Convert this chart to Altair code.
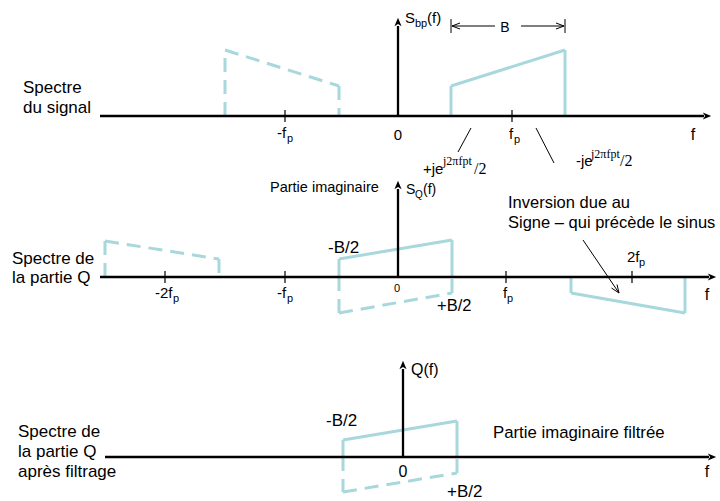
import altair as alt
import pandas as pd

W, H = 720, 501
CYAN = "#a8d8dc"
SANS = "Liberation Sans"
SERIF = "Liberation Serif"

# ---- geometry of the diagram (page coordinates: x to the right, y downwards) ----
axis_lines = [  # x1, y1, x2, y2
    (100, 116, 704, 116), (398, 116, 398, 26),
    (100, 277, 709, 277), (398, 277, 398, 189),
    (105, 457, 709, 457), (403, 457, 403, 369),
]
axis_heads = [  # x, y, angle
    (707, 116, 0), (398, 22, 270),
    (712, 277, 0), (398, 185, 270),
    (712, 457, 0), (403, 365, 270),
]
ticks = [
    (285, 110, 285, 122), (512, 110, 512, 122),
    (165, 271, 165, 283), (285, 271, 285, 283),
    (506, 271, 506, 283), (632, 271, 632, 283),
]
cyan_solid = [
    (451, 116, 451, 86), (451, 86, 565, 50), (565, 50, 565, 116),
    (339, 277, 339, 259), (339, 259, 452, 240), (452, 240, 452, 277),
    (571, 277, 571, 293), (571, 293, 685, 313), (685, 313, 685, 277),
    (343, 457, 343, 440), (343, 440, 457, 421), (457, 421, 457, 457),
]
cyan_dashed = [
    (225, 116, 225, 50), (225, 50, 339, 86), (339, 86, 339, 116),
    (105, 277, 105, 241), (105, 241, 219, 259), (219, 259, 219, 277),
    (339, 277, 339, 313), (339, 313, 452, 293), (452, 293, 452, 277),
    (343, 457, 343, 492), (343, 492, 457, 473), (457, 473, 457, 457),
]
thin_lines = [
    (471, 128, 458, 152), (536, 128, 554, 163),
    (451, 19, 451, 33), (565, 19, 565, 33),
    (452, 26, 495, 26), (521, 26, 564, 26),
    (452, 26, 460, 23), (452, 26, 460, 29),
    (564, 26, 556, 23), (564, 26, 556, 29),
    (583, 240, 619, 293), (619, 293, 617, 284.5), (619, 293, 611.5, 288),
]

# ---- texts: text, x, y (baseline), font size ----
texts_left = [
    ("Spectre", 23, 93, 17), ("du signal", 23, 113, 17),
    ("S", 405, 23, 15), ("bp", 415, 27, 11), ("(f)", 427, 23, 15),
    ("-f", 277, 138, 15), ("p", 287, 142, 11),
    ("f", 509, 139, 15), ("p", 514, 143, 11),
    ("+je", 423, 174, 15), ("-je", 576, 166, 15),
    ("Partie imaginaire", 270, 192, 14.5),
    ("S", 406, 194, 14), ("Q", 415, 198, 10), ("(f)", 423, 194, 14),
    ("Spectre de", 12, 264, 17), ("la partie Q", 12, 283, 17),
    ("-B/2", 328, 253, 17), ("+B/2", 437, 311, 16.5),
    ("-2f", 155, 298, 15), ("p", 173, 302, 11),
    ("-f", 277, 298, 15), ("p", 287, 302, 11),
    ("f", 503, 298, 15), ("p", 507, 302, 11),
    ("2f", 627, 262, 15), ("p", 639, 266, 11),
    ("Inversion due au", 508, 208, 16.5),
    ("Signe \u2013 qui pr\u00e9c\u00e8de le sinus", 508, 228, 16.5),
    ("Spectre de", 18, 437, 17), ("la partie Q", 18, 457, 17),
    ("apr\u00e8s filtrage", 18, 477, 17),
    ("Q(f)", 411, 375, 16),
    ("Partie imaginaire filtr\u00e9e", 493, 438, 16.8),
    ("-B/2", 326, 426, 17), ("+B/2", 447, 497, 17),
]
texts_center = [
    ("B", 505, 32, 14), ("0", 398, 140, 15), ("f", 693, 140, 16),
    ("0", 397, 292, 11), ("f", 707, 300, 16),
    ("0", 403, 477, 16), ("f", 707, 477, 16),
]
texts_serif = [
    ("j2\u03c0fpt", 443, 165, 12), ("/2", 474, 174, 16),
    ("j2\u03c0fpt", 591, 158, 12), ("/2", 620, 166, 16),
]

xs = alt.Scale(domain=[0, W], nice=False, zero=False)
ys = alt.Scale(domain=[0, H], nice=False, zero=False, reverse=True)


def seg_df(rows):
    return pd.DataFrame(rows, columns=["x1", "y1", "x2", "y2"])


def txt_df(rows):
    return pd.DataFrame(rows, columns=["t", "x", "y", "s"])


def rules(rows, **mk):
    return alt.Chart(seg_df(rows)).mark_rule(**mk).encode(
        x=alt.X("x1:Q", scale=xs, axis=None),
        y=alt.Y("y1:Q", scale=ys, axis=None),
        x2="x2:Q", y2="y2:Q",
    )


def texts(rows, **mk):
    return alt.Chart(txt_df(rows)).mark_text(baseline="alphabetic", color="black", **mk).encode(
        x=alt.X("x:Q", scale=xs, axis=None),
        y=alt.Y("y:Q", scale=ys, axis=None),
        text="t:N",
        size=alt.Size("s:Q", scale=None),
    )


heads = alt.Chart(pd.DataFrame(axis_heads, columns=["x", "y", "a"])).mark_point(
    filled=True, opacity=1, color="black", size=70,
    shape="M 1 0 L -1 -0.85 L -0.45 0 L -1 0.85 Z",
).encode(
    x=alt.X("x:Q", scale=xs, axis=None),
    y=alt.Y("y:Q", scale=ys, axis=None),
    angle=alt.Angle("a:Q", scale=None),
)

chart = alt.layer(
    rules(cyan_dashed, color=CYAN, strokeWidth=3, strokeDash=[14, 8]),
    rules(cyan_solid, color=CYAN, strokeWidth=3),
    rules(axis_lines, color="black", strokeWidth=2.3),
    rules(ticks, color="black", strokeWidth=1.2),
    rules(thin_lines, color="black", strokeWidth=1),
    heads,
    texts(texts_left, align="left", font=SANS),
    texts(texts_center, align="center", font=SANS),
    texts(texts_serif, align="left", font=SERIF),
).properties(
    width=W, height=H, padding=0,
    autosize=alt.AutoSizeParams(type="none"),
).configure_view(stroke=None)

chart.save("out.html", embed_options={"renderer": "svg", "actions": False})
